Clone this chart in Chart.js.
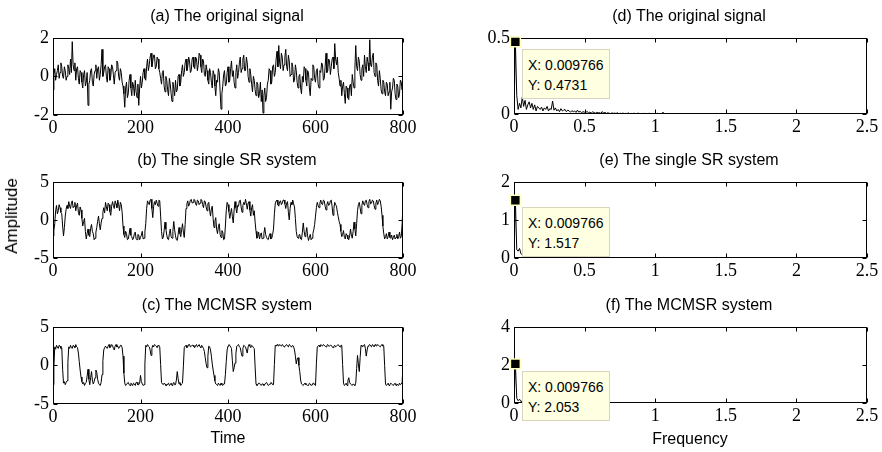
<!DOCTYPE html>
<html lang="en">
<head>
<meta charset="UTF-8">
<title>Signals and spectra</title>
<script src="https://cdn.jsdelivr.net/npm/chart.js"></script>
<style>
  body { margin: 0; background: #fff; }
  #wrap {
    position: relative;
    width: 882px;
    height: 452px;
    overflow: hidden;
    font-family: Arial, "Liberation Sans", sans-serif;
    color: #000;
  }
  canvas { position: absolute; }
  .lbl {
    position: absolute;
    font-size: 16px;
    line-height: 18px;
    white-space: nowrap;
    transform: translate(-50%, -50%);
  }
  .tip {
    position: absolute;
    width: 88px;
    height: 50px;
    box-sizing: border-box;
    padding: 5px 0 0 5px;
    background: #ffffe1;
    border: 1px solid #d8d5bc;
    font-size: 14px;
    line-height: 20px;
    white-space: nowrap;
  }
</style>
</head>
<body>
<div id="wrap">
  <canvas id="pa"></canvas>
  <canvas id="pb"></canvas>
  <canvas id="pc"></canvas>
  <canvas id="pd"></canvas>
  <canvas id="pe"></canvas>
  <canvas id="pf"></canvas>

  <div class="lbl" style="left:227px; top:16px;">(a) The original signal</div>
  <div class="lbl" style="left:227px; top:160px;">(b) The single SR system</div>
  <div class="lbl" style="left:227px; top:305px;">(c) The MCMSR system</div>
  <div class="lbl" style="left:689px; top:16px;">(d) The original signal</div>
  <div class="lbl" style="left:689px; top:160px;">(e) The single SR system</div>
  <div class="lbl" style="left:689px; top:305px;">(f) The MCMSR system</div>
  <div class="lbl" style="left:12px; top:216px; font-size:17px; transform: translate(-50%, -50%) rotate(-90deg);">Amplitude</div>
  <div class="lbl" style="left:228px; top:438px;">Time</div>
  <div class="lbl" style="left:690px; top:439px;">Frequency</div>

  <div class="tip" id="tipd">X: 0.009766<br>Y: 0.4731</div>
  <div class="tip" id="tipe">X: 0.009766<br>Y: 1.517</div>
  <div class="tip" id="tipf">X: 0.009766<br>Y: 2.053</div>
</div>

<script>
  // values, one every 2 time units (0..800)
  const DT = 2;
  const sigOriginal = [
    -0.7, 0.1, 0.4, -0.2, 0.1, 0.3, 0.6, -0.1, 0.2, 0.7, 0.5, 0.0, -0.1, 0.5, 0.3, -0.2, 0.0, 0.6, 0.4, 0.1,
    0.9, 0.2, 1.8, 0.6, 0.3, 0.7, -0.2, 0.4, 0.5, -0.1, -0.4, 0.3, 0.2, -0.3, -0.6, 0.1, 0.3, -0.5, -0.3, 0.2,
    -1.5, -0.4, -0.2, 0.3, 0.4, -0.3, -0.5, 0.1, 0.3, 0.6, -0.1, 0.4, 0.5, -0.2, 0.1, 0.6, 1.4, 0.0, 0.2, 0.5,
    0.6, 0.0, -0.3, 0.5, 0.4, -0.2, 0.0, 0.6, 0.5, 0.1, -0.4, 0.2, 0.3, 0.8, 0.7, 0.0, -0.2, 0.4, 0.2, -0.3,
    -0.5, -0.9, -1.6, -0.6, -0.3, -1.1, -0.9, -0.2, 0.1, -0.6, -1.0, -0.3, -0.5, -1.0, -0.2, -0.8, -1.1, -0.4, -1.5, -0.6,
    0.0, -0.6, -0.3, 0.2, 0.4, -0.1, -0.2, 0.5, 0.9, 0.3, 0.6, 1.0, 1.2, 0.5, 0.8, 1.1, 1.1, 0.4, 0.5, 1.0,
    0.9, 0.4, 0.2, -0.1, -0.4, 0.2, 0.3, -0.5, -0.8, 0.0, -0.2, -0.7, -1.0, -0.1, -0.4, -0.9, -1.3, -0.3, -0.6, -1.0,
    -0.2, -0.8, -0.7, 0.0, 0.1, -0.5, -0.3, 0.3, 0.6, 0.0, 0.2, 0.7, 0.9, 0.3, 0.5, 1.0, 0.8, 0.2, 0.3, 0.9,
    1.0, 0.5, 0.4, 1.0, 0.9, 0.3, 0.6, 1.2, 1.1, 0.5, 0.2, 0.9, 0.8, 0.1, 0.0, 0.6, 0.3, -0.2, -0.4, 0.4,
    0.2, -0.3, -0.6, 0.3, 0.1, -0.5, -1.0, -0.2, -0.3, 0.4, 0.2, -0.8, -1.7, -0.9, -0.5, 0.1, 0.3, -0.5, -0.4, 0.2,
    0.5, -0.3, -0.2, 0.4, 0.8, 0.0, 0.3, -0.3, -0.6, 0.2, 0.6, -0.1, 0.2, 0.7, 1.0, 0.2, 0.4, 0.9, 1.1, 0.3,
    0.3, 1.0, 0.7, 0.0, -0.3, 0.4, 0.1, -0.4, -0.8, 0.0, -0.2, -0.7, -1.0, -0.3, -0.4, -1.1, -0.9, -0.3, -1.3, -0.7,
    -1.9, -1.0, -0.6, -1.3, -1.1, -0.4, -0.2, 0.4, 0.3, -0.4, -0.3, 0.5, 0.6, 0.0, 0.2, 0.9, 1.3, 0.5, 1.6, 0.7,
    0.4, 1.2, 1.0, 0.3, 0.6, 1.0, 1.4, 0.5, 0.3, 1.1, 0.8, 0.0, 0.1, 0.7, 0.5, -0.3, -0.2, 0.6, 0.3, -0.3,
    -0.6, 0.0, 0.1, -0.6, -0.9, 0.0, -0.3, 0.5, 0.4, -0.2, -0.5, 0.3, 0.2, -0.6, -1.0, -0.1, -0.2, 0.6, 0.5, -0.1,
    -0.3, 0.3, 0.4, -0.4, -0.6, 0.3, 0.2, 0.7, 0.6, -0.2, -0.1, 0.5, 1.2, 0.2, 0.3, 0.9, 0.8, 0.1, 0.5, 0.9,
    1.0, 0.4, 1.7, 0.9, 0.6, 1.0, 0.2, -0.1, -0.5, -0.2, -1.0, -0.5, -0.3, -0.9, -1.4, -0.5, -0.6, -1.1, -1.2, -0.5,
    -0.4, -1.0, 0.1, -0.3, -0.6, 0.4, 1.6, 0.5, 0.3, 1.0, 0.8, 0.1, -0.2, 0.4, 0.6, 0.0, 1.1, 0.5, 0.2, 1.0,
    0.7, 0.3, 1.9, 0.6, 0.5, 1.0, 1.2, 0.2, 0.0, 0.7, 0.6, -0.2, -0.5, 0.3, -0.1, -0.7, -0.9, -0.2, -0.3, -0.8,
    -1.0, -0.3, -0.4, -1.0, -0.8, -0.3, -1.7, -0.8, -0.6, -0.1, -0.2, -0.9, -1.2, -0.4, -0.5, -1.1, -0.9, -0.2, -0.3, -0.7,
    0.8
  ];
  const sigSingleSR = [
    -2.1, -1.4, -0.5, 1.2, 1.9, 0.8, 1.2, 2.0, 1.6, 1.0, 0.8, -0.8, -2.1, -1.0, 0.5, 1.4, 1.9, 1.5, 2.4, 1.8,
    1.5, 2.2, 2.5, 1.6, 1.8, 2.3, 1.2, 1.9, 2.2, 1.0, 0.6, 1.7, 1.3, 0.2, -0.8, -0.2, 0.2, -1.5, -2.5, -1.8,
    -1.2, -2.0, -2.2, -1.1, -0.6, -1.5, -1.8, -2.6, -2.4, -1.6, -1.0, -0.2, 0.5, -0.5, -1.3, -0.4, 0.2, 1.0, 1.6, 0.9,
    2.3, 1.7, 1.2, 2.2, 2.0, 1.1, 0.6, 1.8, 2.4, 1.9, 1.5, 2.5, 2.1, 1.6, 2.6, 2.0, 1.2, 2.3, 2.0, 1.0,
    -0.8, -1.9, -2.3, -1.5, -1.8, -2.6, -2.5, -1.9, -1.1, -2.0, -2.2, -2.6, -2.4, -1.8, -1.6, -2.5, -2.6, -1.9, -2.0, -2.6,
    -2.3, -2.0, -1.5, -2.5, -2.4, -1.6, -0.5, 1.5, 2.5, 2.2, 2.0, 2.6, 2.7, 1.5, 0.3, 1.8, 2.4, 2.0, 2.6, 2.2,
    1.8, 2.6, 2.5, 0.5, -1.5, -2.5, -2.3, -1.4, -0.3, -1.2, -2.0, -2.5, -2.6, -1.8, -1.2, -2.2, -2.4, -1.5, -0.2, -1.3,
    -2.1, -2.6, -2.7, -1.9, -1.0, -1.8, -2.2, -1.3, -0.5, -1.6, -2.3, -0.6, 1.5, 2.1, 2.5, 1.8, 2.1, 2.6, 2.7, 2.2,
    2.3, 2.7, 2.6, 2.1, 1.9, 2.6, 2.5, 2.0, 2.2, 2.7, 2.6, 2.0, 1.6, 2.5, 2.4, 1.7, 1.2, 2.1, 2.3, 1.3,
    0.5, 1.4, 1.8, 0.2, -1.0, -0.2, 0.3, -1.2, -1.8, -0.9, -0.5, -1.9, -2.3, -1.4, -1.6, -2.6, -2.5, -0.8, 1.2, 2.3,
    2.0, 1.1, 0.2, 0.9, 1.5, 0.4, -0.4, 1.3, 2.4, 1.6, 0.9, 1.9, 1.8, 2.5, 2.6, 1.7, 1.0, 1.9, 2.3, 2.0,
    2.7, 2.1, 1.4, 2.2, 2.4, 1.3, 0.5, 1.6, 2.0, 0.6, 1.2, -0.3, -1.5, -2.4, -2.2, -1.6, -2.5, -2.0, -1.7, -2.5,
    -2.4, -1.8, -1.0, -1.9, -2.3, -2.5, -2.6, -2.1, -1.8, -2.5, -2.4, -1.9, -1.2, 0.8, 2.1, 2.5, 2.6, 2.0, 1.8, 2.4,
    2.5, 2.0, 2.2, 2.6, 2.6, 2.1, 1.5, 2.2, 2.4, 1.0, 0.0, 1.5, 2.3, 2.0, 2.6, 2.1, 1.7, 0.2, -1.5, -2.2,
    -2.4, -2.0, -1.9, -2.5, -2.6, -1.6, -0.4, -1.5, -2.2, -1.7, -1.0, -2.1, -2.7, -2.3, -1.9, -2.6, -2.4, -1.8, -1.3, -0.6,
    0.5, 1.6, 2.3, 1.9, 1.6, 2.2, 2.6, 2.1, 2.0, 2.6, 2.5, 1.8, 1.3, 2.0, 2.4, 1.9, 2.0, 2.5, 2.6, 1.7,
    0.6, 1.5, 2.3, 2.0, 1.8, 1.0, 0.4, -0.2, -0.6, -1.5, -2.2, -1.9, -1.4, -2.3, -2.5, -1.8, -2.0, -2.5, -2.6, -2.1,
    -1.2, -2.0, -2.4, -1.5, -0.3, -1.2, -2.1, -0.5, 1.2, 2.0, 2.3, 1.6, 0.8, 1.9, 2.5, 2.1, 1.9, 2.5, 2.6, 2.0,
    1.6, 2.4, 2.7, 2.1, 2.2, 2.6, 2.5, 1.9, 1.4, 2.2, 2.6, 2.0, 2.3, 2.7, 2.5, 1.8, 0.6, -0.8, -1.8, -2.5,
    -2.2, -1.8, -2.5, -2.2, -1.6, -2.3, -2.4, -2.0, -2.6, -2.3, -2.0, -2.5, -2.3, -1.9, -2.5, -2.2, -1.6, -2.4, -2.2, -0.5,
    2.4
  ];
  const sigMCMSR = [
    -2.5, -0.2, 2.4, 2.1, 2.6, 2.4, 2.2, 2.6, 2.5, 2.2, 2.3, -0.5, -2.3, -2.1, -2.5, -2.2, -2.0, 0.4, 2.4, 2.2,
    2.6, 2.3, 2.2, 2.6, 2.5, 2.3, 2.7, 2.4, 2.3, 1.6, 0.5, -0.6, -1.5, -2.1, -2.4, -2.2, -2.6, -2.3, -2.2, -1.4,
    -0.5, -1.8, -2.5, -1.6, -0.8, -1.9, -2.4, -2.1, -1.6, -0.6, -0.9, -1.8, -2.3, -2.5, -2.6, -2.2, -1.2, 0.6, 2.0, 2.3,
    2.5, 2.3, 2.2, 2.5, 2.7, 2.3, 2.4, 2.7, 2.6, 2.2, 2.0, 2.5, 2.7, 2.4, 2.5, 2.2, 2.3, 2.6, 2.6, 2.3,
    1.2, -1.0, -2.3, -2.6, -2.5, -2.3, -2.2, -2.5, -2.6, -2.3, -2.4, -2.6, -2.3, -2.4, -2.6, -2.2, -2.2, -2.5, -2.5, -2.3,
    -1.3, -2.1, -2.4, -2.6, -2.5, 0.2, 2.6, 2.4, 2.7, 2.5, 2.4, 2.0, 1.3, 2.2, 2.6, 2.4, 2.7, 2.6, 2.5, 2.3,
    2.6, 2.5, 2.4, 0.1, -2.2, -2.4, -2.5, -2.3, -2.4, -2.6, -2.6, -2.4, -2.3, -2.6, -2.5, -2.3, -2.6, -2.4, -2.2, -2.5,
    -2.5, -1.9, -0.8, -1.7, -2.4, -2.2, -2.6, -2.4, -2.3, -0.1, 2.3, 2.5, 2.6, 2.3, 2.4, 2.7, 2.7, 2.4, 2.5, 2.6,
    2.6, 2.4, 2.3, 2.6, 2.7, 2.4, 2.5, 2.7, 2.4, 2.3, 2.6, 2.4, 2.2, 1.8, 1.0, 0.2, -0.3, 1.2, 2.5, 2.4,
    2.0, 1.2, 0.2, -0.6, -1.3, -2.0, -2.4, -2.5, -2.6, -2.3, -2.5, -2.6, -2.3, -2.5, -2.6, -2.4, -2.4, -1.2, 0.5, 2.0,
    2.5, 2.7, 2.6, 2.4, 2.2, 0.6, -0.8, -0.3, 0.3, 1.5, 2.5, 2.6, 2.7, 2.4, 2.3, 1.7, 1.2, 2.2, 2.6, 2.5,
    2.4, 2.0, 1.6, 2.4, 2.7, 2.5, 2.3, 2.6, 2.5, 2.3, 2.2, -0.2, -2.4, -2.6, -2.5, -2.3, -2.3, -2.5, -2.6, -2.4,
    -2.4, -2.6, -2.5, -2.3, -2.2, -2.4, -2.6, -2.5, -2.4, -2.2, -2.3, -2.5, -2.5, 0.1, 2.6, 2.5, 2.7, 2.6, 2.5, 2.7,
    2.6, 2.5, 2.7, 2.6, 2.4, 2.5, 2.6, 2.7, 2.5, 2.4, 2.7, 2.6, 2.4, 2.5, 2.6, 2.4, 2.0, 1.2, 0.2, 0.8,
    1.0, 0.0, -0.8, -1.9, -2.4, -2.5, -2.6, -2.4, -2.3, -2.5, -2.5, -2.6, -2.6, -2.3, -2.4, -2.6, -2.5, -2.3, -2.3, -2.5,
    -2.6, 0.2, 2.4, 2.5, 2.6, 2.4, 2.7, 2.6, 2.5, 2.7, 2.6, 2.5, 2.4, 2.6, 2.7, 2.5, 2.5, 2.6, 2.6, 2.4,
    2.3, 2.5, 2.6, 2.4, 2.5, 2.6, 2.7, 2.5, 2.4, 2.6, 2.6, 0.1, -2.3, -2.6, -2.5, -2.3, -2.6, -2.0, -1.6, -2.2,
    -2.4, -2.5, -2.6, -2.4, -2.5, -2.6, -2.3, -0.4, 1.3, 0.2, -0.8, 1.0, 2.6, 2.5, 2.4, 2.6, 2.7, 2.2, 1.2, 2.0,
    2.5, 2.6, 2.7, 2.5, 2.4, 2.7, 2.6, 2.4, 2.7, 2.6, 2.5, 2.7, 2.6, 2.5, 2.4, 2.6, 2.7, 2.5, 2.5, 0.0,
    -2.4, -2.6, -2.5, -2.3, -2.6, -2.5, -2.3, -2.4, -2.5, -2.6, -2.4, -2.3, -2.6, -2.4, -2.5, -2.6, -2.3, -2.5, -2.4, -2.2,
    0.1
  ];

  // amplitude spectra, one value per FFT bin (bin width 5/512)
  const DF = 5 / 512;
  const specOriginal = [
    0.0, 0.4731,
    0.12, 0.03, 0.07, 0.04, 0.11, 0.05, 0.09, 0.03, 0.06, 0.08,
    0.04, 0.07, 0.03, 0.06, 0.02, 0.05, 0.04, 0.03, 0.045, 0.02,
    0.04, 0.03, 0.05, 0.02, 0.035, 0.03, 0.085, 0.025, 0.04, 0.02,
    0.03, 0.015, 0.035, 0.02, 0.025, 0.03, 0.015, 0.025, 0.02, 0.012,
    0.022, 0.015, 0.02, 0.01, 0.025, 0.012, 0.018, 0.008, 0.015, 0.012,
    0.01, 0.016, 0.008, 0.012, 0.006, 0.014, 0.01, 0.005, 0.011, 0.007,
    0.009, 0.004, 0.016, 0.006, 0.01, 0.004, 0.008, 0.005, 0.003, 0.007,
    0.004, 0.006, 0.003, 0.008, 0.002, 0.005, 0.003, 0.006, 0.002, 0.004,
    0.003, 0.007, 0.002, 0.004, 0.002, 0.005, 0.003, 0.002, 0.006, 0.002,
    0.003, 0.002, 0.004, 0.001, 0.003, 0.002, 0.005, 0.001, 0.002, 0.003,
    0.001, 0.002, 0.004, 0.001, 0.002, 0.001, 0.012, 0.002, 0.001, 0.002,
    0.001, 0.001
  ];
  const specSingleSR = [
    0.0, 1.517,
    0.22, 0.18, 0.25, 0.12, 0.08, 0.1, 0.06, 0.09, 0.05, 0.07,
    0.04, 0.08, 0.05, 0.06, 0.03, 0.07, 0.04, 0.05, 0.03, 0.06,
    0.04, 0.05, 0.03, 0.06, 0.04, 0.03, 0.05, 0.02, 0.04, 0.06,
    0.03, 0.04, 0.02, 0.05, 0.03, 0.04, 0.02, 0.05, 0.03, 0.06,
    0.02, 0.04, 0.03, 0.05, 0.02, 0.04, 0.03, 0.02, 0.04, 0.02,
    0.03, 0.02, 0.04, 0.015, 0.03, 0.02, 0.015, 0.03, 0.02, 0.01,
    0.02, 0.01, 0.015, 0.07, 0.01, 0.005, 0.002
  ];
  const specMCMSR = [
    0.0, 2.053,
    0.25, 0.12, 0.2, 0.08, 0.1, 0.05, 0.07, 0.04, 0.06, 0.03,
    0.05, 0.02, 0.04, 0.03, 0.02, 0.04, 0.02, 0.03, 0.015, 0.02,
    0.01, 0.02, 0.015, 0.01, 0.02, 0.01, 0.015, 0.01, 0.008, 0.012,
    0.006, 0.01, 0.005, 0.008, 0.004, 0.006, 0.003, 0.004, 0.002
  ];
  const PEAK_BIN = 1;

  const SERIF = '"Liberation Serif", "Times New Roman", serif';
  Chart.defaults.color = '#000';
  Chart.defaults.font.family = SERIF;
  Chart.defaults.font.size = 18;

  // matlab style box with inward ticks on all four sides
  const boxTicks = {
    id: 'boxTicks',
    beforeDatasetsDraw(chart) {
      const { ctx, chartArea: a, scales: { x, y } } = chart;
      const L = Math.round(a.left) + 0.5, R = Math.round(a.right) - 0.5;
      const T = Math.round(a.top) + 0.5, B = Math.round(a.bottom) - 0.5;
      ctx.save();
      ctx.strokeStyle = '#000';
      ctx.lineWidth = 1;
      ctx.beginPath();
      x.ticks.forEach(t => {
        const px = Math.round(x.getPixelForValue(t.value)) + 0.5;
        ctx.moveTo(px, B); ctx.lineTo(px, B - 4);
        ctx.moveTo(px, T); ctx.lineTo(px, T + 4);
      });
      y.ticks.forEach(t => {
        const py = Math.round(y.getPixelForValue(t.value)) + 0.5;
        ctx.moveTo(L, py); ctx.lineTo(L + 4, py);
        ctx.moveTo(R, py); ctx.lineTo(R - 4, py);
      });
      ctx.stroke();
      ctx.strokeRect(L, T, R - L, B - T);
      ctx.restore();
    }
  };

  // plain number labels like matlab: 1 not 1.0
  const plainLabel = v => String(Math.round(v * 1000) / 1000);

  function makePanel(id, area, xr, yr, datasets) {
    const cv = document.getElementById(id);
    const padL = 52, padT = 12, padR = 22, padB = 30;
    cv.width = area.r - area.l + padL + padR;
    cv.height = area.b - area.t + padT + padB;
    cv.style.left = (area.l - padL) + 'px';
    cv.style.top = (area.t - padT) + 'px';
    return new Chart(cv, {
      type: 'line',
      data: { datasets },
      options: {
        responsive: false,
        animation: false,
        devicePixelRatio: 1,
        events: [],
        layout: { padding: { top: padT, right: padR, left: 0, bottom: 0 } },
        plugins: { legend: { display: false }, tooltip: { enabled: false } },
        scales: {
          x: {
            type: 'linear',
            min: xr[0], max: xr[1],
            afterFit: s => { s.height = padB; },
            grid: { display: false, drawTicks: false },
            border: { display: false },
            ticks: { stepSize: xr[2], padding: 2, maxRotation: 0, autoSkip: false,
                     callback: plainLabel, font: { family: SERIF, size: 18 } }
          },
          y: {
            min: yr[0], max: yr[1],
            afterFit: s => { s.width = padL; },
            grid: { display: false, drawTicks: false },
            border: { display: false },
            ticks: { stepSize: yr[2], padding: 4, callback: plainLabel,
                     font: { family: SERIF, size: 18 } }
          }
        }
      },
      plugins: [boxTicks]
    });
  }

  function traceSet(values, step) {
    return {
      data: values.map((v, i) => ({ x: i * step, y: v })),
      borderColor: '#000',
      borderWidth: 1,
      pointRadius: 0,
      tension: 0,
      order: 1
    };
  }

  function peakSet(values) {
    return {
      data: [{ x: PEAK_BIN * DF, y: values[PEAK_BIN] }],
      showLine: false,
      pointStyle: 'rect',
      pointRadius: 7,
      pointBackgroundColor: '#000',
      pointBorderColor: '#ffffc0',
      pointBorderWidth: 1.5,
      clip: false,
      order: 0
    };
  }

  // put the datatip box just below-right of the marked peak
  function placeTip(chart, tipId, values) {
    const cv = chart.canvas;
    const px = chart.scales.x.getPixelForValue(PEAK_BIN * DF) + cv.offsetLeft;
    const py = chart.scales.y.getPixelForValue(values[PEAK_BIN]) + cv.offsetTop;
    const tip = document.getElementById(tipId);
    tip.style.left = Math.round(px + 7) + 'px';
    tip.style.top = Math.round(py + 7) + 'px';
  }

  const timeX = [0, 800, 200];
  const freqX = [0, 2.5, 0.5];

  makePanel('pa', { l: 53, t: 35, r: 403, b: 115 }, timeX, [-2, 2, 2], [traceSet(sigOriginal, DT)]);
  makePanel('pb', { l: 53, t: 179, r: 403, b: 258 }, timeX, [-5, 5, 5], [traceSet(sigSingleSR, DT)]);
  makePanel('pc', { l: 53, t: 324, r: 403, b: 404 }, timeX, [-5, 5, 5], [traceSet(sigMCMSR, DT)]);

  const cd = makePanel('pd', { l: 514, t: 35, r: 867, b: 114 }, freqX, [0, 0.5, 0.5],
    [peakSet(specOriginal), traceSet(specOriginal, DF)]);
  const ce = makePanel('pe', { l: 514, t: 179, r: 867, b: 258 }, freqX, [0, 2, 1],
    [peakSet(specSingleSR), traceSet(specSingleSR, DF)]);
  const cf = makePanel('pf', { l: 514, t: 324, r: 867, b: 403 }, freqX, [0, 4, 2],
    [peakSet(specMCMSR), traceSet(specMCMSR, DF)]);

  placeTip(cd, 'tipd', specOriginal);
  placeTip(ce, 'tipe', specSingleSR);
  placeTip(cf, 'tipf', specMCMSR);
</script>
</body>
</html>
